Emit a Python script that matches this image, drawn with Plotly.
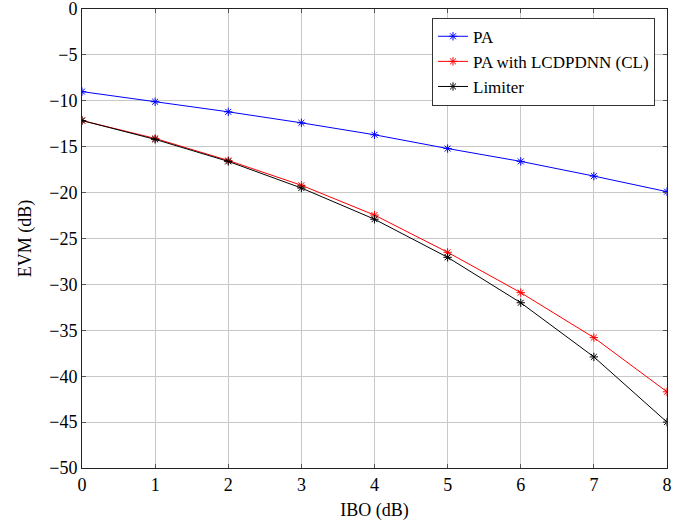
import plotly.graph_objects as go

ibo = [0, 1, 2, 3, 4, 5, 6, 7, 8]
pa = [-9.0, -10.1, -11.2, -12.4, -13.7, -15.2, -16.6, -18.2, -19.9]
pa_lcdpdnn = [-12.15, -14.1, -16.5, -19.2, -22.45, -26.5, -30.9, -35.8, -41.7]
limiter = [-12.15, -14.2, -16.6, -19.5, -22.9, -27.05, -32.0, -37.9, -45.0]

names = ["PA", "PA with LCDPDNN (CL)", "Limiter"]
colors = ["#0000ff", "#ff0000", "#000000"]
series = [pa, pa_lcdpdnn, limiter]

fig = go.Figure()
for n, c, s in zip(names, colors, series):
    fig.add_trace(go.Scatter(
        x=ibo, y=s, name=n, mode="lines+markers",
        line=dict(color=c, width=1),
        marker=dict(symbol="asterisk-open", size=7, color=c, line=dict(color=c, width=1)),
    ))

font = "Liberation Serif"
f18 = dict(family=font, size=18, color="black")
fig.update_layout(
    width=689, height=521,
    margin=dict(l=82, r=22, t=9, b=53),
    paper_bgcolor="white", plot_bgcolor="white",
    font=f18,
    showlegend=True,
    legend=dict(
        x=0.9795, y=0.981, xanchor="right", yanchor="top",
        bordercolor="#333333", borderwidth=1, bgcolor="white",
        font=dict(family=font, size=17, color="black"),
        tracegroupgap=0, itemwidth=30,
    ),
    xaxis=dict(
        title=dict(text="IBO (dB)", standoff=10, font=f18),
        tickfont=f18, automargin=False, ticklabeloverflow="allow",
        range=[0, 8], tickvals=ibo, showgrid=True, gridcolor="#c8c8c8", gridwidth=1,
        showline=True, linecolor="#222222", linewidth=1, mirror="ticks",
        ticks="inside", ticklen=4, tickcolor="#555555", zeroline=False,
    ),
    yaxis=dict(
        title=dict(text="EVM (dB)", standoff=12, font=f18),
        tickfont=f18, automargin=False, ticklabeloverflow="allow",
        range=[-50, 0], tickvals=[-50, -45, -40, -35, -30, -25, -20, -15, -10, -5, 0],
        showgrid=True, gridcolor="#c8c8c8", gridwidth=1,
        showline=True, linecolor="#222222", linewidth=1, mirror="ticks",
        ticks="inside", ticklen=4, tickcolor="#555555", zeroline=False,
    ),
)

fig.write_html("out.html")
